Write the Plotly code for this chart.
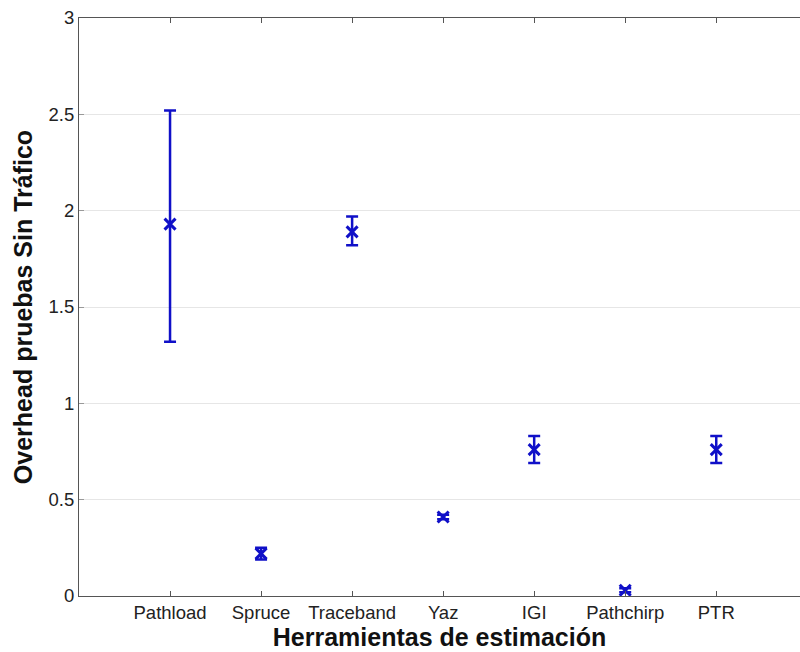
import plotly.graph_objects as go

tools = ["Pathload", "Spruce", "Traceband", "Yaz", "IGI", "Pathchirp", "PTR"]
positions = [1, 2, 3, 4, 5, 6, 7]
means = [1.93, 0.22, 1.89, 0.41, 0.76, 0.03, 0.76]
err_plus = [0.59, 0.03, 0.08, 0.012, 0.07, 0.01, 0.07]
err_minus = [0.61, 0.03, 0.07, 0.012, 0.07, 0.01, 0.07]
yticks = [0, 0.5, 1, 1.5, 2, 2.5, 3]
ytick_labels = ["0", "0.5", "1", "1.5", "2", "2.5", "3"]

blue = "#1010c8"
FONT = "Liberation Sans, Arial, sans-serif"

fig = go.Figure()
fig.add_trace(go.Scatter(
    x=positions, y=means, mode="markers",
    marker=dict(symbol="x-thin", size=11, color=blue,
                line=dict(width=3, color=blue)),
    error_y=dict(type="data", symmetric=False, array=err_plus,
                 arrayminus=err_minus, color=blue, thickness=2.5, width=6),
    showlegend=False,
))

fig.update_layout(
    width=800, height=652,
    margin=dict(l=79, r=0, t=18, b=56, pad=0),
    paper_bgcolor="white", plot_bgcolor="white",
    font=dict(family=FONT, color="#222"),
    xaxis=dict(
        range=[0, 7.92], tickmode="array", tickvals=positions, ticktext=tools,
        showgrid=False, zeroline=False, showline=True, linecolor="#555",
        linewidth=1, mirror="ticks", ticks="inside", ticklen=5,
        tickcolor="#555", tickfont=dict(size=18.5, color="#222"),
        automargin=False,
        title=dict(text="<b>Herramientas de estimación</b>",
                   font=dict(size=25, color="#111"), standoff=2),
    ),
    yaxis=dict(
        range=[0, 3], tickmode="array", tickvals=yticks, ticktext=ytick_labels,
        showgrid=True, gridcolor="#e6e6e6", gridwidth=1, zeroline=False,
        showline=True, linecolor="#555", linewidth=1, mirror=False,
        ticks="inside", ticklen=5, tickcolor="#999",
        tickfont=dict(size=18.5, color="#222"), automargin=False,
        title=dict(text="<b>Overhead pruebas Sin Tráfico</b>",
                   font=dict(size=25, color="#111"), standoff=8),
    ),
)

fig.write_html("out.html", config={"displayModeBar": False})
